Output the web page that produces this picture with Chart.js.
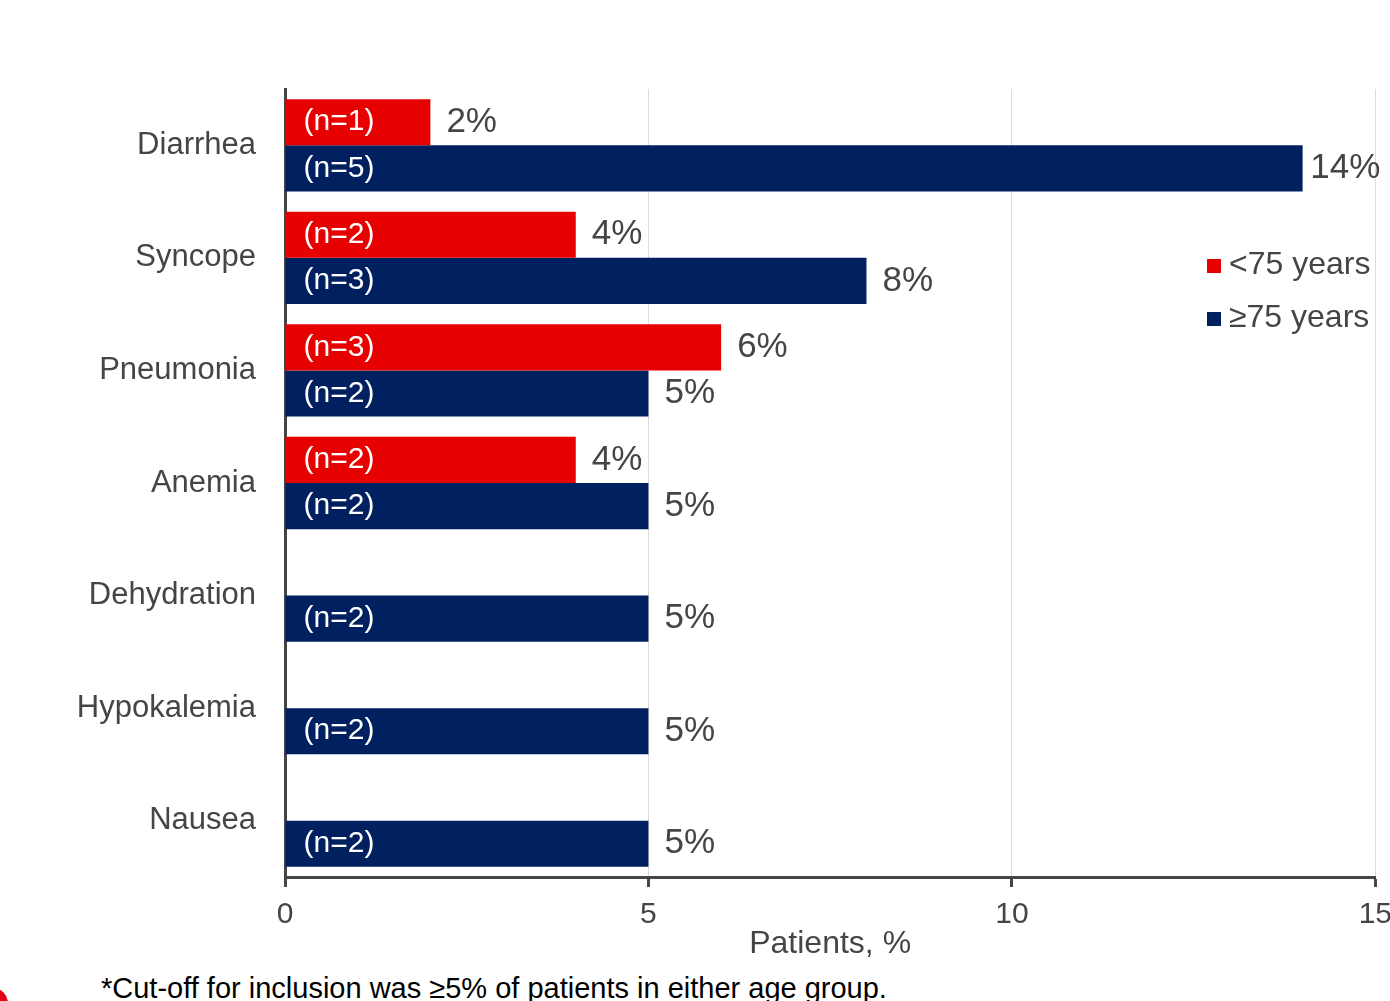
<!DOCTYPE html>
<html lang="en">
<head>
  <meta charset="UTF-8">
  <title>Adverse events by age group</title>
  <script src="https://cdn.jsdelivr.net/npm/chart.js"></script>
  <style>
    body {
      margin: 0;
      width: 1390px;
      height: 1001px;
      overflow: hidden;
      background: #fff;
      font-family: "Liberation Sans", Arial, sans-serif;
      position: relative;
    }
    #wrap {
      position: absolute;
      left: 0;
      top: 0;
      width: 1402px;
      height: 960px;
    }
    .legend {
      position: absolute;
      left: 1207px;
      font-size: 32px;
      color: #454545;
      line-height: 36px;
      white-space: nowrap;
    }
    .legend span {
      display: inline-block;
      width: 14px;
      height: 14px;
      margin-right: 8px;
      vertical-align: 1px;
    }
    #note {
      position: absolute;
      left: 101px;
      top: 975px;
      font-size: 29px;
      line-height: 27px;
      color: #000;
      white-space: nowrap;
    }
    #corner {
      position: absolute;
      left: -22px;
      top: 988px;
      width: 30px;
      height: 30px;
      border-radius: 50%;
      background: #e30613;
    }
  </style>
</head>
<body>
  <div id="wrap"><canvas id="aeChart" width="1402" height="960"></canvas></div>
  <div class="legend" style="top:245px"><span style="background:#e60000"></span>&lt;75 years</div>
  <div class="legend" style="top:298px"><span style="background:#002060"></span>≥75 years</div>
  <div id="note">*Cut-off for inclusion was ≥5% of patients in either age group.</div>
  <div id="corner"></div>

  <script>
    const categories = ['Diarrhea', 'Syncope', 'Pneumonia', 'Anemia', 'Dehydration', 'Hypokalemia', 'Nausea'];
    const under75 = [2, 4, 6, 4, null, null, null];
    const under75N = [1, 2, 3, 2, null, null, null];
    const over75 = [14, 8, 5, 5, 5, 5, 5];
    const over75N = [5, 3, 2, 2, 2, 2, 2];
    const xTicks = [0, 5, 10, 15];

    const textGray = '#454545';

    // n counts inside the bar, percentages after it
    const barLabels = {
      id: 'barLabels',
      afterDatasetsDraw(chart) {
        const ctx = chart.ctx;
        const area = chart.chartArea;
        const counts = [under75N, over75N];
        ctx.save();
        ctx.textBaseline = 'middle';
        chart.data.datasets.forEach((ds, i) => {
          const meta = chart.getDatasetMeta(i);
          meta.data.forEach((bar, j) => {
            const v = ds.data[j];
            if (v === null) return;
            ctx.font = '30px "Liberation Sans", Arial, sans-serif';
            ctx.fillStyle = '#fff';
            ctx.textAlign = 'left';
            ctx.fillText('(n=' + counts[i][j] + ')', bar.base + 18, bar.y);

            const txt = v + '%';
            ctx.font = '35px "Liberation Sans", Arial, sans-serif';
            const w = ctx.measureText(txt).width;
            const x = Math.min(bar.x + 16, area.right + 5 - w);
            ctx.fillStyle = textGray;
            ctx.fillText(txt, x, bar.y);
          });
        });
        ctx.restore();
      }
    };

    new Chart(document.getElementById('aeChart'), {
      type: 'bar',
      data: {
        labels: categories,
        datasets: [
          { label: '<75 years', data: under75, backgroundColor: '#e60000' },
          { label: '≥75 years', data: over75, backgroundColor: '#002060' }
        ]
      },
      options: {
        indexAxis: 'y',
        responsive: false,
        animation: false,
        categoryPercentage: 0.82,
        barPercentage: 1,
        layout: { padding: { top: 89, right: 25, left: 0, bottom: 0 } },
        plugins: {
          legend: { display: false },
          tooltip: { enabled: false }
        },
        scales: {
          x: {
            min: 0,
            max: 15,
            afterBuildTicks(scale) {
              scale.ticks = xTicks.map(v => ({ value: v }));
            },
            afterFit(scale) { scale.height = 83; },
            grid: {
              color: '#dcdcdc',
              lineWidth: 1,
              tickColor: '#454545',
              tickWidth: 3,
              tickLength: 10
            },
            border: { display: true, color: '#454545', width: 3 },
            ticks: {
              color: textGray,
              padding: 10,
              font: { family: '"Liberation Sans", Arial, sans-serif', size: 30 }
            },
            title: {
              display: true,
              text: 'Patients, %',
              color: textGray,
              padding: 0,
              font: { family: '"Liberation Sans", Arial, sans-serif', size: 32, lineHeight: 1 }
            }
          },
          y: {
            afterFit(scale) { scale.width = 285; },
            grid: { display: false },
            border: { display: true, color: '#454545', width: 3 },
            ticks: {
              color: textGray,
              padding: 21,
              font: { family: '"Liberation Sans", Arial, sans-serif', size: 31 }
            }
          }
        }
      },
      plugins: [barLabels]
    });
  </script>
</body>
</html>
